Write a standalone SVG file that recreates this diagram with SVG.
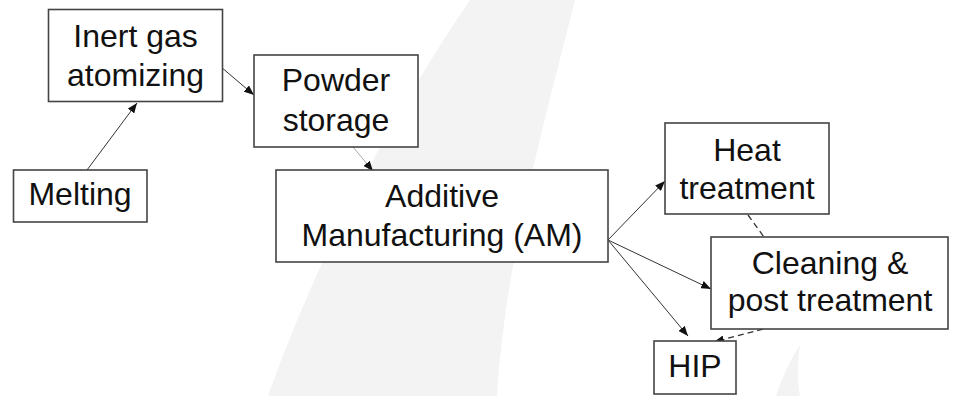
<svg xmlns="http://www.w3.org/2000/svg" width="956" height="396" viewBox="0 0 956 396">
<style>
.box{fill:#fff;stroke:#444;stroke-width:1.6}
.t{font-family:"Liberation Sans",Arial,sans-serif;font-size:32px;fill:#111;text-anchor:middle}
.c{stroke:#333;stroke-width:1;fill:none}
.lt{stroke:#aaa}
.d{stroke-dasharray:6,4;stroke-width:1.3}
</style>
<defs>
<marker id="ah" viewBox="0 0 10 8" refX="10" refY="4" markerWidth="10" markerHeight="8" markerUnits="userSpaceOnUse" orient="auto">
<path d="M0,0 L10,4 L0,8 Z" fill="#111"/>
</marker>
</defs>
<rect width="956" height="396" fill="#fff"/>
<g id="background">
<path d="M470,0 L575,0 C545,120 505,260 497,396 L268,396 C320,250 395,110 470,0 Z" fill="#f3f3f3"/>
<path d="M800,345 C790,360 781,380 776,396 L800,396 C797,380 798,360 800,345 Z" fill="#f3f3f3"/>
</g>
<g id="connectors">
<line class="c" x1="87" y1="170" x2="137" y2="103" marker-end="url(#ah)"/>
<line class="c" x1="221" y1="67" x2="254" y2="95" marker-end="url(#ah)"/>
<line class="c lt" x1="353" y1="147" x2="373" y2="171" marker-end="url(#ah)"/>
<line class="c" x1="608" y1="240" x2="665" y2="181" marker-end="url(#ah)"/>
<line class="c" x1="608" y1="240" x2="711" y2="289" marker-end="url(#ah)"/>
<line class="c" x1="608" y1="240" x2="688" y2="336" marker-end="url(#ah)"/>
<line class="c d" x1="748" y1="215" x2="764" y2="237"/>
<line class="c d" x1="763" y1="329" x2="714" y2="342" marker-end="url(#ah)"/>
</g>
<g id="inert">
<rect class="box" x="48.5" y="9.5" width="174" height="92"/>
<text class="t" x="135.5" y="47">Inert gas</text>
<text class="t" x="135.5" y="86">atomizing</text>
</g>
<g id="powder">
<rect class="box" x="254" y="55" width="164" height="92"/>
<text class="t" x="336" y="91">Powder</text>
<text class="t" x="336" y="131">storage</text>
</g>
<g id="melting">
<rect class="box" x="13.5" y="170" width="133.5" height="52"/>
<text class="t" x="80" y="205">Melting</text>
</g>
<g id="am">
<rect class="box" x="276" y="170" width="332" height="92"/>
<text class="t" x="442" y="207">Additive</text>
<text class="t" x="442" y="246">Manufacturing (AM)</text>
</g>
<g id="heat">
<rect class="box" x="665" y="123" width="164" height="91"/>
<text class="t" x="747" y="161">Heat</text>
<text class="t" x="747" y="199">treatment</text>
</g>
<g id="cleaning">
<rect class="box" x="711" y="237" width="237" height="92"/>
<text class="t" x="830" y="274">Cleaning &amp;</text>
<text class="t" x="830" y="311">post treatment</text>
</g>
<g id="hip">
<rect class="box" x="654" y="341" width="82" height="53"/>
<text class="t" x="695" y="377">HIP</text>
</g>
</svg>
